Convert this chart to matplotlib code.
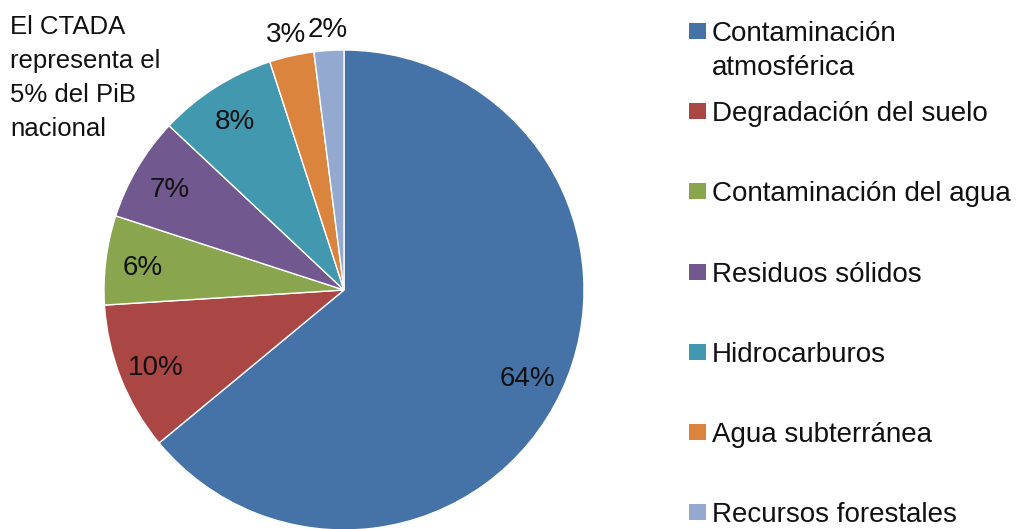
import matplotlib
matplotlib.use("Agg")
import numpy as np
import matplotlib.pyplot as plt
from matplotlib.patches import Rectangle

# datos
categorias = ["Contaminación\natmosférica", "Degradación del suelo", "Contaminación del agua",
              "Residuos sólidos", "Hidrocarburos", "Agua subterránea", "Recursos forestales"]
porcentajes = [64, 10, 6, 7, 8, 3, 2]
colores = ["#4572A7", "#AA4643", "#89A54E", "#71588F", "#4198AF", "#DB843D", "#93A9CF"]
nota = "El CTADA\nrepresenta el\n5% del PiB\nnacional"

W, H = 1019, 529
plt.rcParams['font.family'] = ['Liberation Sans', 'DejaVu Sans']
plt.rcParams['text.color'] = '#111111'

fig = plt.figure(figsize=(W / 100, H / 100), dpi=100)

# pastel: centro (344, 290) px, radio 240 px
ax = fig.add_axes([104 / W, 1 - 530 / H, 480 / W, 480 / H])
wedges, _ = ax.pie(porcentajes, colors=colores, startangle=90, counterclock=False, radius=1,
                   wedgeprops=dict(edgecolor='white', linewidth=1))
ax.set_xlim(-1, 1)
ax.set_ylim(-1, 1)
ax.set_aspect('equal')
ax.axis('off')

# etiquetas de porcentaje (las pequeñas van fuera)
for w, p in zip(wedges, porcentajes):
    ang = np.deg2rad((w.theta1 + w.theta2) / 2)
    r = 0.845 if p >= 5 else 1.1
    ax.text(r * np.cos(ang), r * np.sin(ang), f"{p}%", ha='center', va='center_baseline',
            fontsize=20)

# leyenda manual
y0, paso = 31, 80.2
for i, (lab, col) in enumerate(zip(categorias, colores)):
    yc = y0 + i * paso
    fig.add_artist(Rectangle((689 / W, 1 - (yc + 8) / H), 17 / W, 16 / H,
                             transform=fig.transFigure, facecolor=col, edgecolor='none'))
    fig.text(712 / W, 1 - (yc - 10) / H, lab, fontsize=20, va='top', linespacing=1.41)

# nota arriba a la izquierda
fig.text(10 / W, 1 - 15 / H, nota, fontsize=18.5, va='top', linespacing=1.52)

fig.savefig("out.png", dpi=100)
